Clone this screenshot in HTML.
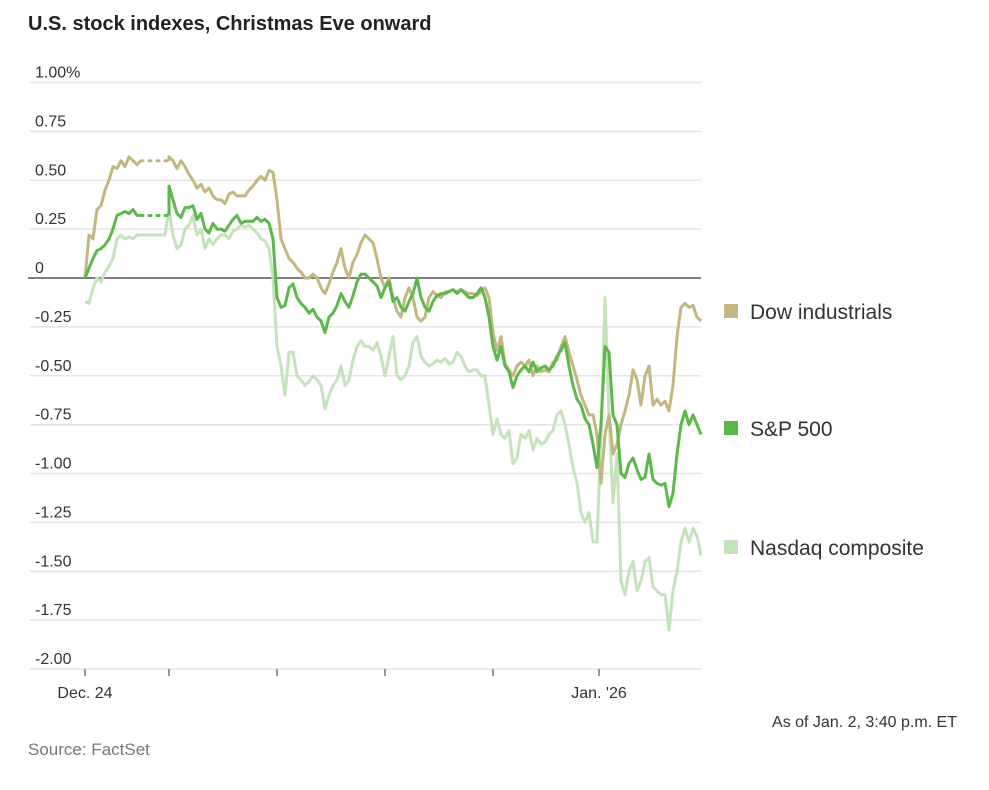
<!DOCTYPE html>
<html><head><meta charset="utf-8"><style>
html,body{margin:0;padding:0;background:#fff;}
body{width:989px;height:785px;overflow:hidden;font-family:"Liberation Sans",sans-serif;}
svg text{font-family:"Liberation Sans",sans-serif;}
</style></head><body>
<svg id="chart" width="989" height="785" viewBox="0 0 989 785" xmlns="http://www.w3.org/2000/svg">
<text x="28" y="30" font-size="20" font-weight="bold" fill="#222">U.S. stock indexes, Christmas Eve onward</text>
<g id="grid"></g>
<g id="yaxis"></g>
<g id="xaxis"></g>
<g id="series"></g>
<g>
<rect x="724" y="304" width="14" height="14" fill="#c2b77e"/>
<text x="750" y="319" font-size="21" fill="#333">Dow industrials</text>
<rect x="724" y="421" width="14" height="14" fill="#5cb84a"/>
<text x="750" y="436" font-size="21" fill="#333">S&amp;P 500</text>
<rect x="724" y="540" width="14" height="14" fill="#c5e3bb"/>
<text x="750" y="555" font-size="21" fill="#333">Nasdaq composite</text>
</g>
<text x="957" y="727" font-size="16" fill="#333" text-anchor="end">As of Jan. 2, 3:40 p.m. ET</text>
<text x="28" y="755" font-size="17" fill="#777">Source: FactSet</text>
</svg>
<script>
const yTicks=[1,0.75,0.5,0.25,0,-0.25,-0.5,-0.75,-1,-1.25,-1.5,-1.75,-2];
const yTickLabels=["1.00%","0.75","0.50","0.25","0","-0.25","-0.50","-0.75","-1.00","-1.25","-1.50","-1.75","-2.00"];
const xTickIdx=[0,21,48,75,102,128.5];
const xTickLabels=["Dec. 24","","","","","Jan. '26"];
const dow=[0,0.22,0.2,0.35,0.37,0.45,0.5,0.57,0.56,0.6,
0.57,0.62,0.6,0.58,0.6,null,null,null,null,null,null,
0.62,0.6,0.56,0.6,0.57,0.53,0.5,0.46,0.48,0.44,
0.46,0.42,0.4,0.4,0.38,0.43,0.44,0.42,0.42,0.42,
0.45,0.47,0.5,0.52,0.5,0.55,0.54,0.4,0.2,0.15,
0.1,0.08,0.05,0.03,0,0,0.02,0,-0.05,-0.08,
-0.03,0.03,0.08,0.15,0.05,0,0.08,0.12,0.18,0.22,
0.2,0.18,0.1,0,-0.05,0,-0.1,-0.17,-0.2,-0.1,
-0.05,-0.1,-0.2,-0.22,-0.2,-0.1,-0.07,-0.09,-0.1,-0.07,
-0.07,-0.06,-0.07,-0.06,-0.07,-0.08,-0.08,-0.09,-0.07,-0.05,
-0.1,-0.28,-0.37,-0.3,-0.44,-0.47,-0.5,-0.45,-0.43,-0.45,
-0.42,-0.5,-0.45,-0.48,-0.47,-0.48,-0.43,-0.42,-0.35,-0.3,
-0.38,-0.45,-0.52,-0.6,-0.65,-0.7,-0.7,-0.8,-1.05,-0.8,
-0.7,-0.9,-0.85,-0.75,-0.68,-0.6,-0.47,-0.52,-0.65,-0.5,
-0.45,-0.65,-0.62,-0.65,-0.63,-0.68,-0.55,-0.3,-0.15,-0.13,
-0.15,-0.14,-0.2,-0.22];
const sp500=[0,0.05,0.1,0.14,0.15,0.17,0.2,0.25,0.32,0.33,
0.34,0.33,0.35,0.32,0.32,null,null,null,null,null,null,
0.47,0.4,0.33,0.31,0.36,0.36,0.37,0.3,0.33,0.25,
0.23,0.28,0.25,0.25,0.24,0.27,0.3,0.32,0.28,0.29,
0.29,0.29,0.31,0.29,0.3,0.28,0.2,-0.1,-0.15,-0.14,
-0.05,-0.03,-0.1,-0.13,-0.15,-0.18,-0.16,-0.2,-0.22,-0.28,
-0.2,-0.18,-0.14,-0.08,-0.12,-0.15,-0.09,-0.02,0.02,0.02,
0,-0.02,-0.04,-0.1,-0.05,-0.02,-0.12,-0.1,-0.15,-0.17,
-0.12,-0.08,0,-0.1,-0.15,-0.17,-0.12,-0.09,-0.08,-0.08,
-0.07,-0.06,-0.08,-0.06,-0.08,-0.1,-0.1,-0.08,-0.05,-0.1,
-0.2,-0.35,-0.42,-0.35,-0.45,-0.48,-0.56,-0.5,-0.47,-0.45,
-0.48,-0.43,-0.48,-0.46,-0.45,-0.47,-0.45,-0.4,-0.37,-0.33,
-0.45,-0.55,-0.62,-0.65,-0.72,-0.75,-0.85,-0.97,-0.75,-0.35,
-0.38,-0.7,-0.75,-1.0,-1.02,-0.95,-0.92,-0.98,-1.03,-1.02,
-0.9,-1.03,-1.05,-1.06,-1.05,-1.17,-1.1,-0.9,-0.75,-0.68,
-0.75,-0.7,-0.75,-0.8];
const nasdaq=[-0.12,-0.13,-0.05,0,-0.02,0.03,0.06,0.1,0.2,0.22,
0.2,0.21,0.2,0.22,0.22,0.22,0.22,0.22,0.22,0.22,0.22,
0.35,0.22,0.15,0.17,0.25,0.27,0.32,0.22,0.25,0.15,
0.2,0.17,0.2,0.22,0.22,0.2,0.24,0.25,0.27,0.26,
0.27,0.25,0.23,0.2,0.19,0.15,0,-0.35,-0.45,-0.6,
-0.38,-0.38,-0.5,-0.52,-0.55,-0.53,-0.5,-0.52,-0.55,-0.67,
-0.6,-0.55,-0.52,-0.45,-0.55,-0.52,-0.42,-0.35,-0.32,-0.35,
-0.35,-0.37,-0.33,-0.4,-0.5,-0.4,-0.3,-0.5,-0.52,-0.5,
-0.45,-0.33,-0.3,-0.4,-0.43,-0.45,-0.44,-0.42,-0.43,-0.41,
-0.44,-0.43,-0.38,-0.4,-0.45,-0.48,-0.47,-0.47,-0.5,-0.5,
-0.65,-0.8,-0.72,-0.8,-0.82,-0.78,-0.95,-0.92,-0.8,-0.82,
-0.78,-0.88,-0.82,-0.85,-0.84,-0.8,-0.78,-0.7,-0.68,-0.75,
-0.85,-0.97,-1.05,-1.2,-1.25,-1.2,-1.35,-1.35,-0.8,-0.1,
-0.7,-1.15,-0.9,-1.55,-1.62,-1.5,-1.45,-1.6,-1.55,-1.45,
-1.43,-1.58,-1.6,-1.62,-1.62,-1.8,-1.6,-1.5,-1.35,-1.28,
-1.35,-1.28,-1.32,-1.42];

const NS="http://www.w3.org/2000/svg";
const X0=85,X1=701,Y0=278,PX=195.5;
const N=dow.length;
function xs(i){return X0+(X1-X0)*i/(N-1);}
function ys(v){return Y0-v*PX;}
function mk(tag,attrs,parent){const e=document.createElementNS(NS,tag);for(const k in attrs)e.setAttribute(k,attrs[k]);parent.appendChild(e);return e;}
const grid=document.getElementById('grid'),yaxis=document.getElementById('yaxis'),xaxis=document.getElementById('xaxis'),series=document.getElementById('series');
yTicks.forEach((t,k)=>{
  if(t!==0){const l=mk('line',{x1:30,x2:X1,y1:ys(t),y2:ys(t),stroke:'#e4e4e4','stroke-width':1.5},grid);
  
  }
  const tx=mk('text',{x:35,y:ys(t)-5,'font-size':16,fill:'#333'},yaxis);
  tx.textContent=yTickLabels[k];
  
  
});
xTickIdx.forEach((idx,k)=>{
  const x=xs(idx);
  const tk=mk('line',{x1:x,x2:x,y1:ys(-2),y2:ys(-2)+7,stroke:'#555','stroke-width':1.2},xaxis);
  
  
  if(xTickLabels[k]){const tx=mk('text',{x:x,y:698,'font-size':16,fill:'#333','text-anchor':'middle'},xaxis);
  tx.textContent=xTickLabels[k];
  
  }
});
function draw(arr,color,name,w){
  let d='',pen=false,lastI=-1,gapV=null;
  for(let i=0;i<arr.length;i++){
    if(arr[i]===null){
      if(pen&&lastI>=0){
        let j=i;while(j<arr.length&&arr[j]===null)j++;
        if(j<arr.length){const dl=mk('line',{x1:xs(lastI),y1:ys(arr[lastI]),x2:xs(j),y2:ys(arr[lastI]),stroke:color,'stroke-width':w,'stroke-dasharray':'2 6','stroke-linecap':'round'},series);
        
        
        gapV=arr[lastI];}
      }
      pen=false;continue;
    }
    if(!pen&&gapV!==null){d+='M'+xs(i).toFixed(1)+','+ys(gapV).toFixed(1);pen=true;gapV=null;}
    d+=(pen?'L':'M')+xs(i).toFixed(1)+','+ys(arr[i]).toFixed(1);pen=true;lastI=i;
  }
  const p=mk('path',{d:d,fill:'none',stroke:color,'stroke-width':w,'stroke-linejoin':'round'},series);
  
  
}
draw(nasdaq,'#c5e3bb','nasdaq-line',3);
draw(dow,'#c2b77e','dow-line',3);
draw(sp500,'#5cb84a','sp500-line',3);
const z=mk('line',{x1:28,x2:X1,y1:Y0,y2:Y0,stroke:'#555','stroke-width':1.5},yaxis);


</script>
</body></html>
